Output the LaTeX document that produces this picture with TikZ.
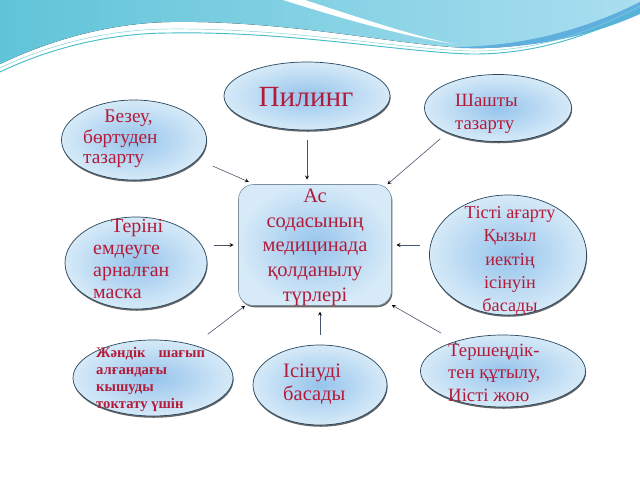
\documentclass[tikz,border=0pt]{standalone}
\usepackage{fontspec}
\setmainfont{Liberation Serif}
\usetikzlibrary{positioning,arrows,shapes.geometric,shadows}
\definecolor{txtred}{RGB}{178,28,58}
\definecolor{rimblue}{RGB}{40,70,95}
\definecolor{fillin}{RGB}{150,196,236}
\definecolor{fillout}{RGB}{214,234,248}
\definecolor{wavel}{RGB}{96,196,216}
\definecolor{waver}{RGB}{170,222,240}
\definecolor{waveline}{RGB}{70,190,200}
\definecolor{swoosh}{RGB}{95,175,222}
\definecolor{arrcol}{RGB}{72,84,108}
\tikzstyle{bubble}=[ellipse,draw=rimblue,line width=0.6pt,inner color=fillin,outer color=fillout,
  drop shadow={shadow xshift=0.5pt,shadow yshift=-1.5pt,fill=black!80,opacity=0.75}]
\tikzstyle{hubbox}=[rectangle,rounded corners=0.45cm,draw=rimblue!60,line width=0.5pt,
  inner color=fillin,outer color=fillout,
  drop shadow={shadow xshift=0.8pt,shadow yshift=-1.5pt,fill=black!80,opacity=0.75}]
\tikzstyle{says}=[inner sep=0pt,text=txtred,align=left]
\tikzstyle{feed}=[draw=arrcol,line width=0.5pt,->,>=stealth]

\begin{document}
\begin{tikzpicture}[x=0.03cm,y=-0.03cm]
  \useasboundingbox (0,0) rectangle (640,480);
  \fill[white] (0,0) rectangle (640,480);
  % waves on top
  \fill[left color=wavel,right color=waver] (0,0) -- (640,0) -- (640,4)
    .. controls (610,22) and (545,50) .. (470,48)
    .. controls (400,46) and (290,20) .. (170,22)
    .. controls (110,23) and (50,40) .. (0,64) -- cycle;
  \fill[swoosh] (460,47) .. controls (540,45) and (600,22) .. (640,2) -- (640,14)
    .. controls (600,32) and (540,50) .. (460,48) -- cycle;
  \fill[white] (283,0) -- (305,0) .. controls (360,18) and (420,38) .. (455,44)
    .. controls (410,38) and (340,18) .. (283,0) -- cycle;
  \draw[waveline,line width=0.8pt] (0,72) .. controls (50,48) and (110,33) .. (170,33)
    .. controls (290,31) and (400,52) .. (470,54) .. controls (545,55) and (605,28) .. (640,10);
  \draw[waveline!70,line width=0.4pt] (0,68) .. controls (50,44) and (110,29) .. (170,29)
    .. controls (290,28) and (400,49) .. (470,51) .. controls (545,52) and (605,25) .. (640,6);

  \node[hubbox,minimum width=4.59cm,minimum height=3.63cm] (hub) at (315,245) {};
  \node[bubble,minimum width=4.98cm,minimum height=2.04cm] (peel) at (307,96) {};
  \node[bubble,minimum width=4.35cm,minimum height=2.4cm] (bez) at (134,140) {};
  \node[bubble,minimum width=4.41cm,minimum height=2.01cm] (hair) at (498,108) {};
  \node[bubble,minimum width=4.26cm,minimum height=2.76cm] (terini) at (136,263) {};
  \node[bubble,minimum width=4.71cm,minimum height=3.6cm] (tisti) at (508,255) {};
  \node[bubble,minimum width=4.8cm,minimum height=2.28cm] (jandik) at (153,378) {};
  \node[bubble,minimum width=4.02cm,minimum height=2.4cm] (isinu) at (320,385) {};
  \node[bubble,minimum width=4.95cm,minimum height=2.16cm] (tersh) at (503,371) {};

  \node[says,font=\fontsize{17.5}{21}\selectfont,align=center,anchor=north] (hubtxt) at (315,189)
    {Ас\\содасының\\медицинада\\қолданылу\\түрлері};
  \node[says,font=\fontsize{25}{28}\selectfont] (peeltxt) at (306,97) {Пилинг};
  \node[says,font=\fontsize{16.5}{17.5}\selectfont,anchor=north west] (beztxt) at (83,110)
    {\hspace*{1.1em}Безеу,\\бөртуден\\тазарту};
  \node[says,font=\fontsize{16}{19.5}\selectfont,anchor=north west] (hairtxt) at (455,94)
    {Шашты\\тазарту};
  \node[says,font=\fontsize{17}{18.7}\selectfont,anchor=north west] (terinitxt) at (93,219)
    {\hspace*{0.9em}Теріні\\емдеуге\\арналған\\маска};
  \node[says,font=\fontsize{15.5}{20}\selectfont,align=center,anchor=north] (tistitxt) at (510,206)
    {Тісті ағарту\\Қызыл\\иектің\\ісінуін\\басады};
  \node[says,font=\bfseries\fontsize{12.5}{14.5}\selectfont,anchor=north west] (jandiktxt) at (96,347)
    {Жәндік\hspace{0.9em}шағып\\алғандағы\\кышуды\\токтату үшін};
  \node[says,font=\fontsize{17.5}{19.5}\selectfont,anchor=north west] (isinutxt) at (283,364)
    {Ісінуді\\басады};
  \node[says,font=\fontsize{16}{19}\selectfont,anchor=north west] (tershtxt) at (448,344)
    {Тершеңдік-\\тен құтылу,\\Иісті жою};

  \path[feed]
    (bez.-17) edge[shorten <=14pt,shorten >=5pt] (hub.135)
    (peel.south) edge[shorten <=8pt,shorten >=4pt] (peel.south |- hub.north)
    (hair.206) edge[shorten <=8pt] (hub.40)
    (terini.east |- hub.west) edge[shorten <=6pt,shorten >=4pt] (hub.west)
    (tisti.west |- hub.east) edge[shorten <=8pt,shorten >=4pt] (hub.east)
    (jandik.39) edge[shorten <=15pt] (hub.221)
    (isinu.north) edge[shorten <=8pt,shorten >=5pt] (isinu.north |- hub.south)
    (tersh.148) edge[shorten <=14pt] (hub.-38);
\end{tikzpicture}
\end{document}
